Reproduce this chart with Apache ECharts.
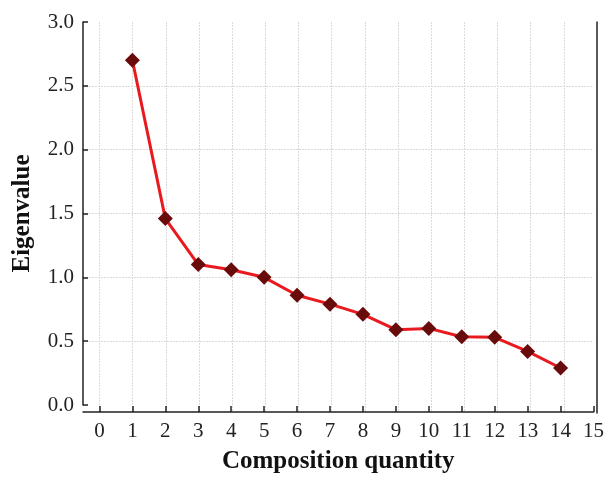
<!DOCTYPE html>
<html>
<head>
<meta charset="utf-8">
<script src="https://cdn.jsdelivr.net/npm/echarts@6/dist/echarts.min.js"></script>
<style>
  html, body { margin: 0; padding: 0; background: #fff; }
  #chart { width: 607px; height: 479px; }
</style>
</head>
<body>
<div id="chart"></div>
<script>
const components = [1, 2, 3, 4, 5, 6, 7, 8, 9, 10, 11, 12, 13, 14];
const eigenvalues = [2.70, 1.46, 1.10, 1.06, 1.00, 0.86, 0.79, 0.71, 0.59, 0.60, 0.535, 0.53, 0.42, 0.29];
const xTickValues = [0, 1, 2, 3, 4, 5, 6, 7, 8, 9, 10, 11, 12, 13, 14, 15];

const serif = 'Liberation Serif';
const axisColor = '#222';
const gridLine = { color: '#dadada', type: [2, 1], width: 1 };

const chart = echarts.init(document.getElementById('chart'), null, { renderer: 'canvas' });

chart.setOption({
  animation: false,
  grid: [
    // data area, y axis ends at 0.0
    { left: 83, right: 10, top: 22, bottom: 73, containLabel: false },
    // frame: vertical grid lines and right border reach down to the x axis
    { left: 83, right: 10, top: 22, bottom: 66, containLabel: false }
  ],
  xAxis: [
    {
      type: 'value',
      gridIndex: 0,
      min: -0.5,
      max: 15,
      offset: 7,
      name: 'Composition quantity',
      nameLocation: 'middle',
      nameGap: 37,
      nameTextStyle: { fontFamily: serif, fontWeight: 'bold', fontSize: 25, color: '#111' },
      axisLine: { onZero: false, lineStyle: { color: axisColor, width: 1.5 } },
      axisTick: { inside: true, length: 6, customValues: xTickValues, lineStyle: { color: axisColor, width: 1.5 } },
      axisLabel: {
        customValues: xTickValues,
        fontFamily: serif, fontSize: 21, color: '#222', margin: 9
      },
      splitLine: { show: false }
    },
    {
      type: 'value',
      gridIndex: 1,
      min: -0.5,
      max: 15,
      axisLine: { show: false, onZero: false },
      axisTick: { show: true, length: 0, customValues: xTickValues, lineStyle: { opacity: 0 } },
      axisLabel: { show: false, customValues: xTickValues },
      splitLine: { show: true, showMaxLine: false, lineStyle: gridLine }
    }
  ],
  yAxis: [
    {
      type: 'value',
      gridIndex: 0,
      min: 0,
      max: 3,
      interval: 0.5,
      name: 'Eigenvalue',
      nameLocation: 'middle',
      nameGap: 48,
      nameTextStyle: { fontFamily: serif, fontWeight: 'bold', fontSize: 25, color: '#111' },
      axisLine: { show: true, onZero: false, lineStyle: { color: axisColor, width: 1.5 } },
      axisTick: { show: true, inside: true, length: 5, lineStyle: { color: axisColor, width: 1.5 } },
      axisLabel: {
        fontFamily: serif, fontSize: 21, color: '#222', margin: 9,
        formatter: v => v.toFixed(1)
      },
      splitLine: { show: true, showMinLine: false, showMaxLine: false, lineStyle: gridLine }
    },
    {
      type: 'value',
      gridIndex: 1,
      min: 0,
      max: 3,
      position: 'right',
      axisLine: { show: true, onZero: false, lineStyle: { color: axisColor, width: 1.5 } },
      axisTick: { show: false },
      axisLabel: { show: false },
      splitLine: { show: false }
    }
  ],
  series: [
    {
      type: 'line',
      xAxisIndex: 0,
      yAxisIndex: 0,
      data: components.map((c, i) => [c, eigenvalues[i]]),
      symbol: 'diamond',
      symbolSize: 15,
      lineStyle: { color: '#e81a1f', width: 3 },
      itemStyle: { color: '#6a0b0b' },
      z: 5
    }
  ]
});
</script>
</body>
</html>
